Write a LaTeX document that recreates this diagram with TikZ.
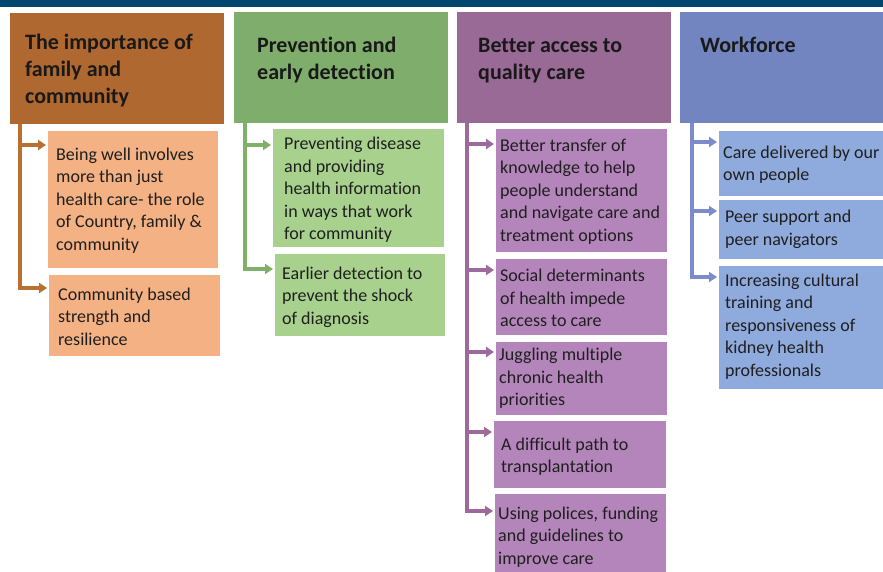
\documentclass[tikz,border=0pt]{standalone}
\usepackage{fontspec}
\setmainfont{Carlito}[Ligatures=CommonOff]
\usetikzlibrary{arrows.meta}
\definecolor{barblue}{HTML}{00476F}
\definecolor{hdA}{HTML}{AE6830}
\definecolor{hdB}{HTML}{7FAD6B}
\definecolor{hdC}{HTML}{996A96}
\definecolor{hdD}{HTML}{7385C0}
\definecolor{itA}{HTML}{F4B183}
\definecolor{itB}{HTML}{A9D18E}
\definecolor{itC}{HTML}{B385BA}
\definecolor{itD}{HTML}{8FAADC}
\definecolor{lnA}{HTML}{BA6F33}
\definecolor{lnB}{HTML}{7FB16A}
\definecolor{lnC}{HTML}{9E6A9C}
\definecolor{lnD}{HTML}{7B8BCB}
\tikzset{
  panel/.style={anchor=north west, inner sep=0pt, outer sep=0pt, draw=none, fill=#1},
  % multi-line text: the base anchor sits on the last line
  headtext/.style={anchor=base west, inner sep=0pt, align=left,
    font=\fontsize{22}{27}\selectfont\bfseries, text=black!90},
  itemtext/.style={anchor=west, inner sep=0pt, align=left,
    font=\fontsize{18}{22.5}\selectfont, text=black!88},
  link/.style={draw=#1, line width=3.2pt, shorten >=2pt,
    -{Triangle[length=8pt,width=10pt]}}
}
\begin{document}
\begin{tikzpicture}[x=1pt,y=-1pt]
\useasboundingbox (0,0) rectangle (883,572);
\fill[barblue] (0,0) rectangle (883,7);

% ---- column 1: family and community
\node[panel=hdA, minimum width=214pt, minimum height=111pt] (hA) at (10,13) {};
\node[headtext] (hAt) at (25,104) {The importance of\\family and\\community};
\node[panel=itA, minimum width=170pt, minimum height=137pt] (iA1) at (48,131) {};
\node[itemtext] (iA1t) at ([xshift=8pt,yshift=-1pt]iA1.west) {Being well involves\\more than just\\health care- the role\\of Country, family \&\\community};
\node[panel=itA, minimum width=171pt, minimum height=81pt] (iA2) at (49,275) {};
\node[itemtext] (iA2t) at ([xshift=9pt,yshift=-1pt]iA2.west) {Community based\\strength and\\resilience};
\draw[link=lnA] ([xshift=10pt]hA.south west) |- ([yshift=-14pt]iA1.north west);
\draw[link=lnA] ([xshift=10pt]hA.south west) |- ([yshift=-13pt]iA2.north west);

% ---- column 2: prevention
\node[panel=hdB, minimum width=214pt, minimum height=111pt] (hB) at (234,12) {};
\node[headtext] (hBt) at (257,80) {Prevention and\\early detection};
\node[panel=itB, minimum width=171pt, minimum height=118pt] (iB1) at (273,129) {};
\node[itemtext] (iB1t) at ([xshift=11pt,yshift=-2pt]iB1.west) {Preventing disease\\and providing\\health information\\in ways that work\\for community};
\node[panel=itB, minimum width=170pt, minimum height=82pt] (iB2) at (275,254) {};
\node[itemtext] (iB2t) at ([xshift=7pt,yshift=-2pt]iB2.west) {Earlier detection to\\prevent the shock\\of diagnosis};
\draw[link=lnB] ([xshift=11pt]hB.south west) |- ([yshift=-16pt]iB1.north west);
\draw[link=lnB] ([xshift=11pt]hB.south west) |- ([yshift=-15pt]iB2.north west);

% ---- column 3: access to care
\node[panel=hdC, minimum width=214pt, minimum height=111pt] (hC) at (457,12) {};
\node[headtext] (hCt) at (478,80) {Better access to\\quality care};
\node[panel=itC, minimum width=171pt, minimum height=123pt] (iC1) at (496,129) {};
\node[itemtext] (iC1t) at ([xshift=4pt,yshift=-1pt]iC1.west) {Better transfer of\\knowledge to help\\people understand\\and navigate care and\\treatment options};
\node[panel=itC, minimum width=171pt, minimum height=76pt] (iC2) at (496,259) {};
\node[itemtext] (iC2t) at ([xshift=4pt,yshift=-1pt]iC2.west) {Social determinants\\of health impede\\access to care};
\node[panel=itC, minimum width=171pt, minimum height=73pt] (iC3) at (496,342) {};
\node[itemtext] (iC3t) at ([xshift=3pt]iC3.west) {Juggling multiple\\chronic health\\priorities};
\node[panel=itC, minimum width=172pt, minimum height=67pt] (iC4) at (494,421) {};
\node[itemtext] (iC4t) at ([xshift=7pt,yshift=-2pt]iC4.west) {A difficult path to\\transplantation};
\node[panel=itC, minimum width=171pt, minimum height=84pt] (iC5) at (495,494) {};
\node[itemtext] (iC5t) at ([xshift=3pt,yshift=-1pt]iC5.west) {Using polices, funding\\and guidelines to\\improve care};
\draw[link=lnC] ([xshift=10pt]hC.south west) |- ([yshift=-15pt]iC1.north west);
\draw[link=lnC] ([xshift=10pt]hC.south west) |- ([yshift=-11pt]iC2.north west);
\draw[link=lnC] ([xshift=10pt]hC.south west) |- ([yshift=-10pt]iC3.north west);
\draw[link=lnC] ([xshift=10pt]hC.south west) |- ([yshift=-11pt]iC4.north west);
\draw[link=lnC] ([xshift=10pt]hC.south west) |- ([yshift=-17pt]iC5.north west);

% ---- column 4: workforce
\node[panel=hdD, minimum width=215pt, minimum height=111pt] (hD) at (680,12) {};
\node[headtext] (hDt) at (700,53) {Workforce};
\node[panel=itD, minimum width=176pt, minimum height=65pt] (iD1) at (719,131) {};
\node[itemtext] (iD1t) at ([xshift=4pt,yshift=-1pt]iD1.west) {Care delivered by our\\own people};
\node[panel=itD, minimum width=176pt, minimum height=59pt] (iD2) at (719,200) {};
\node[itemtext] (iD2t) at ([xshift=6pt]iD2.west) {Peer support and\\peer navigators};
\node[panel=itD, minimum width=176pt, minimum height=123pt] (iD3) at (719,266) {};
\node[itemtext] (iD3t) at ([xshift=6pt,yshift=1pt]iD3.west) {Increasing cultural\\training and\\responsiveness of\\kidney health\\professionals};
\draw[link=lnD] ([xshift=12pt]hD.south west) |- ([yshift=-11pt]iD1.north west);
\draw[link=lnD] ([xshift=12pt]hD.south west) |- ([yshift=-11pt]iD2.north west);
\draw[link=lnD] ([xshift=12pt]hD.south west) |- ([yshift=-11pt]iD3.north west);
\end{tikzpicture}
\end{document}
